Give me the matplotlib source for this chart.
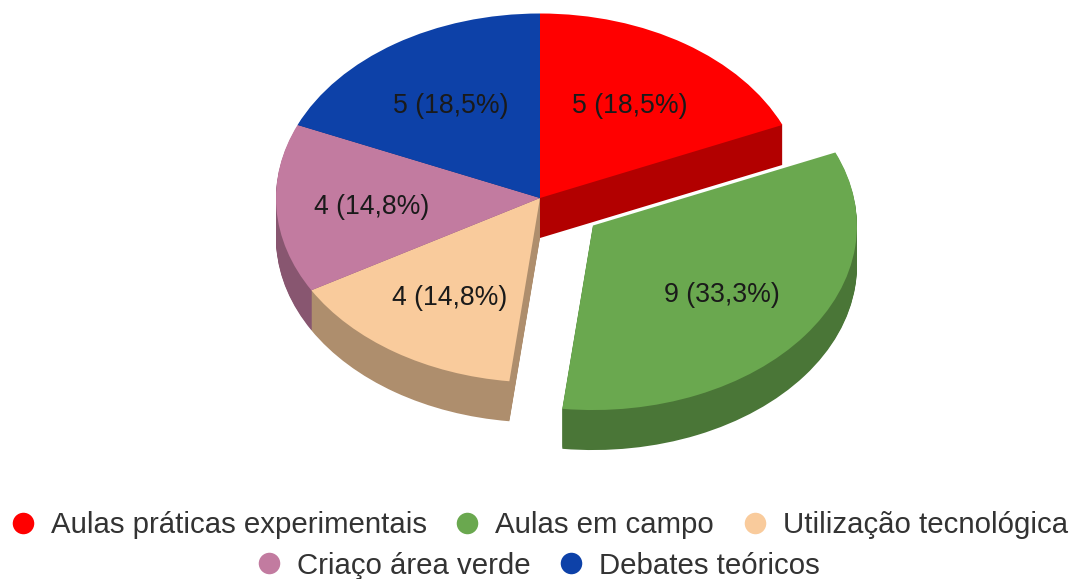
import matplotlib
matplotlib.use('Agg')
from matplotlib import pyplot as plt
from matplotlib.lines import Line2D

plt.rcParams['font.family'] = ['Liberation Sans', 'DejaVu Sans']

categories = ['Aulas práticas experimentais', 'Aulas em campo', 'Utilização tecnológica',
              'Criaço área verde', 'Debates teóricos']
values = [5, 9, 4, 4, 5]
explode = [0, 0.25, 0, 0, 0]
colors = ['#ff0000', '#6aa84f', '#f9cb9c', '#c27ba0', '#0d41a8']
side_colors = ['#b20000', '#4a7637', '#ae8e6d', '#885670', '#092d75']

W, H = 1073, 579
# pie centre and radii, in pixels
cx, cy, rx, ry = 540, 198, 264, 184.5
depth = 40
# small label shifts in pixels (right, down) from the spot pie() picks
label_shift = [(1, 2), (0, 2), (-2, 6), (-8, 2), (-1, 2)]

fig = plt.figure(figsize=(W / 100, H / 100), dpi=100)
ax = fig.add_axes([0, 0, 1, 1])


def pct_label(pct):
    count = round(pct * sum(values) / 100)
    return f'{count} ({pct:.1f}%)'.replace('.', ',')


# side of the pie: same pie stacked from the bottom up
for i in range(depth, 0, -1):
    ax.pie(values, explode=explode, colors=side_colors, startangle=90, counterclock=False,
           center=(0, -i / ry), wedgeprops={'linewidth': 0})

# top face
wedges, texts, pcts = ax.pie(values, explode=explode, colors=colors, startangle=90,
                             counterclock=False, autopct=pct_label, pctdistance=0.61,
                             wedgeprops={'linewidth': 0},
                             textprops={'fontsize': 19.2, 'color': '#1a1a1a'})
for t, (dx, dy) in zip(pcts, label_shift):
    x, y = t.get_position()
    t.set_position((x + dx / rx, y - dy / ry))

# squash the circle into the ellipse of the tilted pie
ax.set_aspect('auto')
ax.set_xlim(-cx / rx, (W - cx) / rx)
ax.set_ylim((cy - H) / ry, cy / ry)
ax.axis('off')


def dot(color):
    return Line2D([], [], linestyle='none', marker='o', markersize=15.5,
                  markerfacecolor=color, markeredgecolor='none')


handles = [dot(c) for c in colors]
legend_style = dict(loc='center', frameon=False, fontsize=21.2, labelcolor='#333333', handlelength=1,
                    handletextpad=0.45, columnspacing=0.88, borderpad=0, borderaxespad=0)
row1 = fig.legend(handles[:3], categories[:3], ncol=3, bbox_to_anchor=(538 / W, 1 - 525 / H), **legend_style)
row2 = fig.legend(handles[3:], categories[3:], ncol=2, bbox_to_anchor=(537 / W, 1 - 565.5 / H), **legend_style)

fig.savefig('out.png', dpi=100)
